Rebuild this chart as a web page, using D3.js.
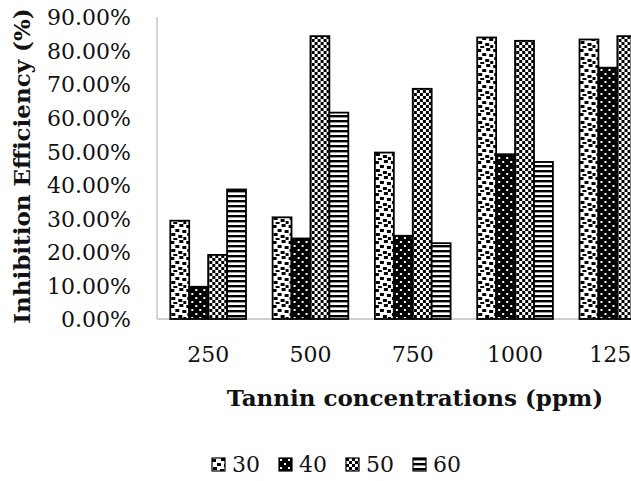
<!DOCTYPE html>
<html>
<head>
<meta charset="utf-8">
<title>Inhibition Efficiency vs Tannin concentration</title>
<style>
body {
  margin: 0;
  background: #fff;
}

svg {
  display: block;
  font-family: "DejaVu Serif", serif;
}

.bar {
  stroke: #000;
  stroke-width: 1.8px;
}

.tick-label {
  font-size: 22px;
  fill: #111;
}

.axis-title {
  font-size: 23px;
  font-weight: bold;
  fill: #111;
}
</style>
<script src="https://d3js.org/d3.v7.min.js"></script>
</head>
<body>
<script>
// data
const concentrations = ['250', '500', '750', '1000', '1250'];
const seriesNames = ['30', '40', '50', '60'];
const s30 = [0.293, 0.303, 0.496, 0.839, 0.833];
const s40 = [0.096, 0.240, 0.248, 0.491, 0.749];
const s50 = [0.191, 0.843, 0.686, 0.829, 0.843];
const s60 = [0.386, 0.615, 0.226, 0.468, 0.840];
const yTicks = [0, 0.1, 0.2, 0.3, 0.4, 0.5, 0.6, 0.7, 0.8, 0.9];

const seriesValues = [s30, s40, s50, s60];

const width = 631,
  height = 481;

const svg = d3.select('body').append('svg')
  .attr('width', width)
  .attr('height', height);

// fill patterns, one per series
const defs = svg.append('defs');

let p30 = defs.append('pattern')
  .attr('id', 'pat30')
  .attr('patternUnits', 'userSpaceOnUse')
  .attr('width', 16).attr('height', 16);
p30.append('rect').attr('width', 16).attr('height', 16).attr('fill', '#fff');
[[0, 1], [9, 0], [5, 5], [12, 6], [1, 9], [8, 11], [13, 13], [3, 14]].forEach(p => {
  p30.append('rect').attr('x', p[0]).attr('y', p[1])
    .attr('width', 4).attr('height', 3).attr('fill', '#000');
});

let p40 = defs.append('pattern')
  .attr('id', 'pat40')
  .attr('patternUnits', 'userSpaceOnUse')
  .attr('width', 8).attr('height', 8);
p40.append('rect').attr('width', 8).attr('height', 8).attr('fill', '#000');
[[1, 1], [5, 5]].forEach(p => {
  p40.append('rect').attr('x', p[0]).attr('y', p[1])
    .attr('width', 2).attr('height', 2).attr('fill', '#fff');
});

let p50 = defs.append('pattern')
  .attr('id', 'pat50')
  .attr('patternUnits', 'userSpaceOnUse')
  .attr('width', 6).attr('height', 6);
p50.append('rect').attr('width', 6).attr('height', 6).attr('fill', '#fff');
p50.append('rect').attr('width', 3).attr('height', 3).attr('fill', '#000');
p50.append('rect').attr('x', 3).attr('y', 3).attr('width', 3).attr('height', 3).attr('fill', '#000');

let p60 = defs.append('pattern')
  .attr('id', 'pat60')
  .attr('patternUnits', 'userSpaceOnUse')
  .attr('width', 5).attr('height', 5);
p60.append('rect').attr('width', 5).attr('height', 5).attr('fill', '#fff');
p60.append('rect').attr('width', 5).attr('height', 2.4).attr('fill', '#000');

const fills = ['url(#pat30)', 'url(#pat40)', 'url(#pat50)', 'url(#pat60)'];

// scales (plot runs past the right edge, as in the reference)
const plotLeft = 157,
  plotRight = 668.5,
  plotTop = 17,
  plotBottom = 319;

const y = d3.scaleLinear()
  .domain([0, 0.9])
  .range([plotBottom, plotTop]);

const x0 = d3.scaleBand()
  .domain(concentrations)
  .range([plotLeft, plotRight])
  .paddingInner(0.26)
  .paddingOuter(0.13);

const x1 = d3.scaleBand()
  .domain(seriesNames)
  .range([0, x0.bandwidth()]);

// axes lines
svg.append('line')
  .attr('x1', plotLeft).attr('x2', plotLeft)
  .attr('y1', plotTop).attr('y2', plotBottom)
  .attr('stroke', '#bfbfbf').attr('stroke-width', 1.3);

svg.append('line')
  .attr('x1', plotLeft).attr('x2', plotRight)
  .attr('y1', plotBottom).attr('y2', plotBottom)
  .attr('stroke', '#bfbfbf').attr('stroke-width', 1.5);

// y tick labels
svg.append('g')
  .selectAll('text')
  .data(yTicks)
  .enter().append('text')
    .attr('class', 'tick-label')
    .attr('x', 131)
    .attr('y', d => y(d))
    .attr('dy', '0.38em')
    .attr('text-anchor', 'end')
    .text(d => d3.format('.2%')(d));

// x tick labels
svg.append('g')
  .selectAll('text')
  .data(concentrations)
  .enter().append('text')
    .attr('class', 'tick-label')
    .attr('x', d => x0(d) + x0.bandwidth() / 2)
    .attr('y', 362)
    .attr('text-anchor', 'middle')
    .text(d => d);

// bars
const groups = svg.append('g')
  .selectAll('g')
  .data(concentrations)
  .enter().append('g')
    .attr('transform', d => 'translate(' + x0(d) + ',0)');

groups.selectAll('rect')
  .data((d, i) => seriesNames.map((s, j) => ({ key: s, j: j, value: seriesValues[j][i] })))
  .enter().append('rect')
    .attr('class', 'bar')
    .attr('x', d => x1(d.key))
    .attr('width', x1.bandwidth())
    .attr('y', d => y(d.value))
    .attr('height', d => y(0) - y(d.value))
    .attr('fill', d => fills[d.j]);

// axis titles
svg.append('text')
  .attr('class', 'axis-title')
  .attr('transform', 'translate(30,166) rotate(-90)')
  .attr('text-anchor', 'middle')
  .text('Inhibition Efficiency (%)');

svg.append('text')
  .attr('class', 'axis-title')
  .attr('x', 415)
  .attr('y', 406)
  .attr('text-anchor', 'middle')
  .text('Tannin concentrations (ppm)');

// legend
const legend = svg.append('g')
  .selectAll('g')
  .data(seriesNames)
  .enter().append('g')
    .attr('transform', (d, i) => 'translate(' + (212 + i * 67) + ',458)');

legend.append('rect')
  .attr('width', 13).attr('height', 13)
  .attr('fill', (d, i) => fills[i])
  .attr('stroke', '#000')
  .attr('stroke-width', 1.2);

legend.append('text')
  .attr('class', 'tick-label')
  .attr('x', 20)
  .attr('y', 14)
  .text(d => d);
</script>
</body>
</html>
